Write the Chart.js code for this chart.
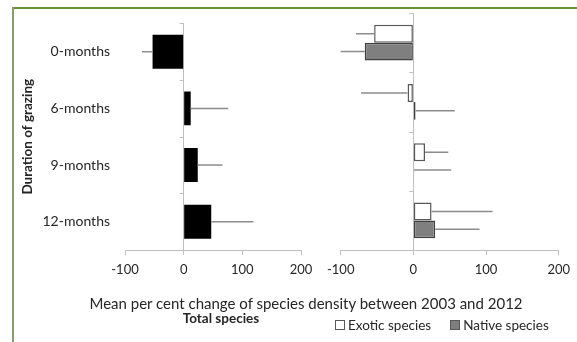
<!DOCTYPE html>
<html>
<head>
<meta charset="utf-8">
<script src="https://cdn.jsdelivr.net/npm/chart.js@4.4.1/dist/chart.umd.min.js"></script>
<style>
  body { margin: 0; background: #fff; font-family: Lato, sans-serif; }
  #wrap { position: relative; width: 577px; height: 342px; overflow: hidden; }
  #frameTop { position: absolute; left: 12px; top: 7px; width: 565px; height: 2px; background: #6b8f3c; }
  #frameLeft { position: absolute; left: 12px; top: 7px; width: 2px; height: 335px; background: #8b9b6c; }
  canvas { position: absolute; top: 0; }
  #total { left: 0; }
  #split { left: 320px; }
  .txt { position: absolute; color: #262626; white-space: nowrap; }
  #xTitle { left: 306px; top: 303px; transform: translate(-50%, -50%); font-size: 15px; }
  #sub { left: 221px; top: 318px; transform: translate(-50%, -50%); font-size: 13.5px; font-weight: bold; }
  #legend { left: 335px; top: 325px; transform: translateY(-50%); font-size: 13.5px; display: flex; align-items: center; }
  .box { display: inline-block; width: 8px; height: 8px; border: 1px solid #595959; margin-right: 3px; }
</style>
</head>
<body>
<div id="wrap">
  <div id="frameTop"></div>
  <div id="frameLeft"></div>
  <canvas id="total" width="320" height="300"></canvas>
  <canvas id="split" width="257" height="300"></canvas>
  <div class="txt" id="xTitle">Mean per cent change of species density between 2003 and 2012</div>
  <div class="txt" id="sub">Total species</div>
  <div class="txt" id="legend">
    <span class="box" style="background:#fff"></span><span>Exotic species</span>
    <span class="box" style="background:#7f7f7f;margin-left:19px"></span><span>Native species</span>
  </div>
</div>
<script>
// ================= DATA =================
const categories = ["0-months", "6-months", "9-months", "12-months"];
const totalValues = [-53, 12, 24, 47];
const totalErrors = [18, 64, 42, 72];
const exoticValues = [-54, -8, 16, 25];
const exoticErrors = [25, 64, 32, 84];
const nativeValues = [-67, 3, 1, 30];
const nativeErrors = [33, 54, 51, 61];
const xTicks = [-100, 0, 100, 200];

const FONT = "Lato";
const AXIS = "#bfbfbf";
const TEXT = "#262626";

// ================= PLUGIN =================
// error bars (one sided, away from zero) and little ticks on the zero line
const errorBars = {
  id: "errorBars",
  afterDatasetsDraw(chart) {
    const { ctx } = chart;
    const x = chart.scales.x;
    const y = chart.scales.y;

    ctx.save();
    ctx.strokeStyle = "#8c8c8c";
    ctx.lineWidth = 1.5;
    chart.data.datasets.forEach((ds, di) => {
      const meta = chart.getDatasetMeta(di);
      meta.data.forEach((bar, i) => {
        const v = ds.data[i];
        const dir = v < 0 ? -1 : 1;
        const end = v + dir * ds.errors[i];
        ctx.beginPath();
        ctx.moveTo(x.getPixelForValue(v), bar.y);
        ctx.lineTo(x.getPixelForValue(end), bar.y);
        ctx.stroke();
      });
    });

    const x0 = x.getPixelForValue(0);
    ctx.strokeStyle = AXIS;
    ctx.lineWidth = 1;
    for (let i = 0; i <= chart.data.labels.length; i++) {
      const py = Math.round(y.getPixelForValue(i - 0.5)) + 0.5;
      ctx.beginPath();
      ctx.moveTo(x0 - 4, py);
      ctx.lineTo(x0, py);
      ctx.stroke();
    }
    ctx.restore();
  }
};

function xScale() {
  return {
    min: -100,
    max: 200,
    afterBuildTicks: s => { s.ticks = xTicks.map(v => ({ value: v })); },
    afterFit: s => { s.height = 30; },
    border: { color: AXIS, width: 1 },
    grid: {
      color: c => (c.tick && c.tick.value === 0 ? AXIS : "transparent"),
      tickColor: AXIS,
      tickLength: 5
    },
    ticks: { color: TEXT, font: { family: FONT, size: 13 }, padding: 7, maxRotation: 0 }
  };
}

// ================= LEFT: TOTAL =================
new Chart(document.getElementById("total"), {
  type: "bar",
  data: {
    labels: categories,
    datasets: [{
      data: totalValues,
      errors: totalErrors,
      backgroundColor: "#000",
      borderColor: "#000",
      borderWidth: 0,
      categoryPercentage: 1,
      barPercentage: 0.6
    }]
  },
  options: {
    indexAxis: "y",
    responsive: false,
    animation: false,
    layout: { padding: { top: 18, right: 19, left: 0, bottom: 20 } },
    plugins: { legend: { display: false }, tooltip: { enabled: false } },
    scales: {
      x: xScale(),
      y: {
        afterFit: s => { s.width = 125; },
        border: { display: false },
        grid: { display: false, drawTicks: false },
        ticks: { color: TEXT, font: { family: FONT, size: 14 }, padding: 15 },
        title: {
          display: true,
          text: "Duration of grazing",
          color: TEXT,
          font: { family: FONT, size: 13.5, weight: "bold" },
          padding: { top: 20, bottom: 0 }
        }
      }
    }
  },
  plugins: [errorBars]
});

// ================= RIGHT: EXOTIC / NATIVE =================
new Chart(document.getElementById("split"), {
  type: "bar",
  data: {
    labels: categories,
    datasets: [
      {
        label: "Exotic species",
        data: exoticValues,
        errors: exoticErrors,
        backgroundColor: "#ffffff",
        borderColor: "#595959",
        borderWidth: 1.5,
        borderSkipped: false,
        categoryPercentage: 0.6,
        barPercentage: 1
      },
      {
        label: "Native species",
        data: nativeValues,
        errors: nativeErrors,
        backgroundColor: "#7f7f7f",
        borderColor: "#404040",
        borderWidth: 1.5,
        borderSkipped: false,
        categoryPercentage: 0.6,
        barPercentage: 1
      }
    ]
  },
  options: {
    indexAxis: "y",
    responsive: false,
    animation: false,
    layout: { padding: { top: 13, right: 18, left: 19, bottom: 20 } },
    plugins: { legend: { display: false }, tooltip: { enabled: false } },
    scales: {
      x: xScale(),
      y: { display: false }
    }
  },
  plugins: [errorBars]
});
</script>
</body>
</html>
